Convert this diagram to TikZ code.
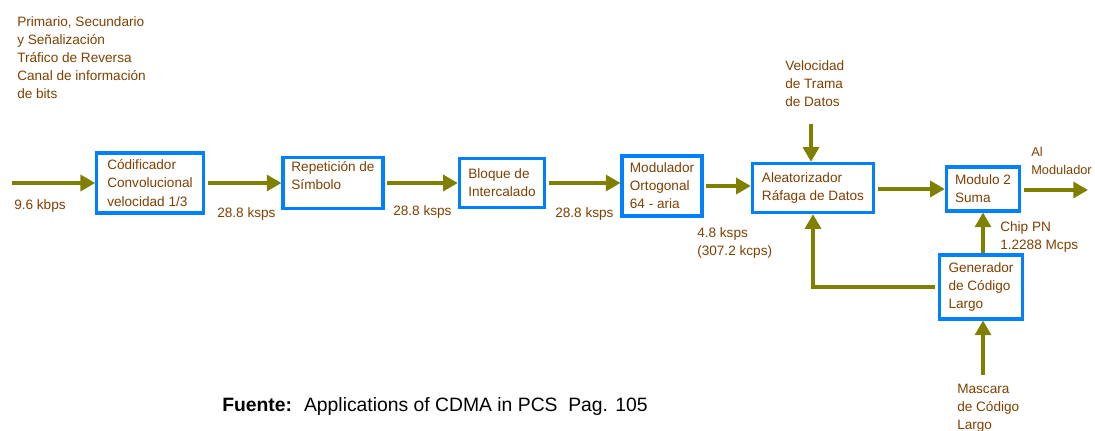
\documentclass[tikz,border=0pt]{standalone}
\usepackage{fontspec}
\setmainfont{Liberation Sans}
\usetikzlibrary{arrows.meta}
\definecolor{olivo}{RGB}{128,128,0}
\definecolor{cafe}{RGB}{128,64,0}
\definecolor{azul}{RGB}{0,128,255}
\begin{document}
\begin{tikzpicture}[x=0.75pt,y=-0.75pt,
  every node/.style={font=\fontsize{10.2}{13.6}\selectfont,text=cafe},
  bloque/.style={draw=azul,line width=2.3pt,fill=white,align=left,inner sep=3pt},
  nota/.style={align=left,inner sep=0pt,anchor=north west},
  flujo/.style={draw=olivo,line width=2.4pt,-{Triangle[length=11pt,width=12pt]}}]
  \useasboundingbox (0,0) rectangle (1095,431);
  % bloques
  \node[bloque,minimum width=80pt,minimum height=45pt] (cod) at (150,183) {C\'odificador\\Convolucional\\velocidad 1/3};
  \node[bloque,minimum width=75pt,minimum height=38pt] (rep) at (333,183) {Repetici\'on de\\S\'imbolo\\[-2pt]};
  \node[bloque,minimum width=64pt,minimum height=37pt] (blq) at (502,183) {Bloque de\\Intercalado};
  \node[bloque,minimum width=60pt,minimum height=45pt] (mod) at (662,186) {Modulador\\Ortogonal\\64 - aria};
  \node[bloque,minimum width=91pt,minimum height=37pt] (ale) at (813,188) {Aleatorizador\\R\'afaga de Datos};
  \node[bloque,minimum width=55pt,minimum height=33pt] (suma) at (983,189) {Modulo 2\\Suma};
  \node[bloque,minimum width=62pt,minimum height=48pt] (gen) at (981,287) {Generador\\de C\'odigo\\Largo};
  % puntos libres
  \coordinate (ent) at (12,183);
  \coordinate (sal) at (1088,190);
  \coordinate (vel) at (811,124);
  \coordinate (masc) at (983,375);
  % flechas
  \draw[flujo] (ent) -- (ent -| cod.west);
  \draw[flujo,shorten <=2pt] (cod.east |- ent) -- (ent -| rep.west);
  \draw[flujo,shorten <=2pt] (rep.east) -- (rep.east -| blq.west);
  \draw[flujo,shorten <=2pt] (blq.east) -- (blq.east -| mod.west);
  \draw[flujo,shorten <=2pt] (mod.east) -- (mod.east -| ale.west);
  \draw[flujo,shorten <=2pt] (ale.east |- suma.west) -- (suma.west);
  \draw[flujo,shorten <=2pt] (suma.east |- sal) -- (sal);
  \draw[flujo] (vel) -- (vel |- ale.north);
  \draw[flujo] (gen.north -| masc) -- (masc |- suma.south);
  \draw[flujo,shorten <=2pt] (gen.west) -| (ale.south);
  \draw[flujo] (masc) -- (masc |- gen.south);
  % textos
  \node[nota] (txtent) at (17,16) {Primario, Secundario\\y Se\~nalizaci\'on\\Tr\'afico de Reversa\\Canal de informaci\'on\\de bits};
  \node[nota] (r1) at (14,199) {9.6 kbps};
  \node[nota] (r2) at (217,207) {28.8 ksps};
  \node[nota] (r3) at (393,205) {28.8 ksps};
  \node[nota] (r4) at (555,207) {28.8 ksps};
  \node[nota] (r5) at (697,227) {4.8 ksps\\(307.2 kcps)};
  \node[nota] (txtvel) at (785,60) {Velocidad\\de Trama\\de Datos};
  \node[nota,font=\fontsize{9.6}{13.6}\selectfont] (txtsal) at (1031,147) {Al\\Modulador};
  \node[nota] (chip) at (1000,221) {Chip PN\\1.2288 Mcps};
  \node[nota] (txtmasc) at (957,384) {Mascara\\de C\'odigo\\Largo};
  \node[anchor=west,inner sep=0pt,text=black,font=\fontsize{14.5}{16}\selectfont] (fuente) at (222,406) {\textbf{Fuente:}\hspace{9pt}Applications of CDMA in PCS\ \ Pag. 105};
\end{tikzpicture}
\end{document}
